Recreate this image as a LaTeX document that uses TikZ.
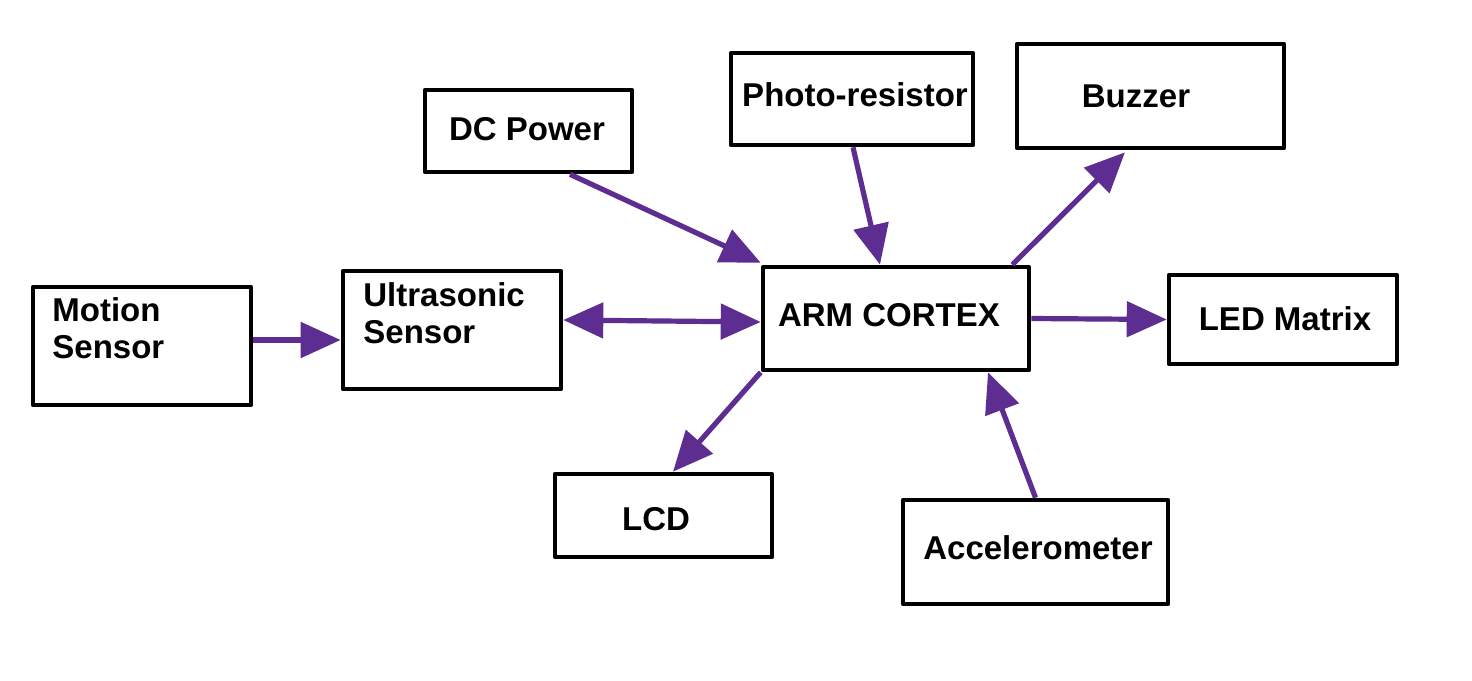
\documentclass[tikz,border=0pt]{standalone}
\usepackage{fontspec}
\setmainfont{Liberation Sans}
\usetikzlibrary{calc,arrows.meta}
\definecolor{arrowc}{RGB}{94,45,145}
\begin{document}
\begin{tikzpicture}[x=0.5pt,y=-0.5pt,
  box/.style={draw=black,line width=2.3pt,line join=round,rectangle,inner sep=0pt},
  txt/.style={font=\fontsize{16.5pt}{18.5pt}\selectfont\bfseries,inner sep=0pt,align=left},
  arr/.style={draw=arrowc,line width=2.6pt,-{Triangle[length=20pt,width=17.5pt]}},
  darr/.style={draw=arrowc,line width=2.6pt,{Triangle[length=20pt,width=17.5pt]}-{Triangle[length=20pt,width=17.5pt]}}]
\useasboundingbox (0,0) rectangle (1472,680);
% boxes
\node[box,minimum width=109pt,minimum height=59pt] (ms) at (142,346) {};
\node[box,minimum width=109pt,minimum height=59pt] (us) at (452,330) {};
\node[box,minimum width=103.5pt,minimum height=41pt] (dc) at (528.5,131) {};
\node[box,minimum width=121pt,minimum height=46pt] (ph) at (852,99) {};
\node[box,minimum width=133.5pt,minimum height=52pt] (bz) at (1150.5,96) {};
\node[box,minimum width=133pt,minimum height=51.5pt] (arm) at (896,318.5) {};
\node[box,minimum width=114pt,minimum height=44.5pt] (led) at (1283,319.5) {};
\node[box,minimum width=108.5pt,minimum height=41.5pt] (lcd) at (663.5,515.5) {};
\node[box,minimum width=132.5pt,minimum height=52pt] (acc) at (1035.5,552) {};
% texts
\node[txt,anchor=west] (mst) at (52,328) {Motion\\Sensor};
\node[txt,anchor=west] (ust) at (363,313) {Ultrasonic\\Sensor};
\node[txt] (dct) at (527,129) {DC Power};
\node[txt] (pht) at (855,95) {Photo-resistor};
\node[txt] (bzt) at (1136,96) {Buzzer};
\node[txt] (armt) at (889,315) {ARM CORTEX};
\node[txt] (ledt) at (1285,319) {LED Matrix};
\node[txt] (lcdt) at (656,519) {LCD};
\node[txt] (acct) at (1038,548) {Accelerometer};
% connectors
\draw[arr] ($(ms.east)+(0,-6)$) -- ($(us.west)+(0,10)$);
\draw[darr] ($(us.east)+(0,-10)$) -- ($(arm.west)+(0,3.5)$);
\draw[arr] ($(dc.south)+(41.5,0)$) -- ($(arm.north west)+(0,-2)$);
\draw[arr] ($(ph.south)+(1,0)$) -- ($(arm.north)+(-16,0)$);
\draw[arr] ($(arm.north east)+(-19,0)$) -- ($(bz.south)+(-25.5,2)$);
\draw[arr] (arm.east) -- (led.west);
\draw[arr] (arm.south west) -- ($(lcd.north)+(9.5,0)$);
\draw[arr] (acc.north) -- ($(arm.south)+(92,0)$);
\end{tikzpicture}
\end{document}
